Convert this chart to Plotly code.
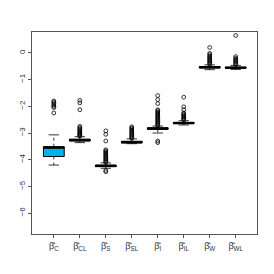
import plotly.graph_objects as go

labels = ["β̂<sub>C</sub>", "β̂<sub>CL</sub>", "β̂<sub>S</sub>", "β̂<sub>SL</sub>",
          "β̂<sub>I</sub>", "β̂<sub>IL</sub>", "β̂<sub>W</sub>", "β̂<sub>WL</sub>"]
positions = [1, 2, 3, 4, 5, 6, 7, 8]
q1 = [-3.88, -3.30, -4.26, -3.37, -2.86, -2.65, -0.57, -0.58]
median = [-3.55, -3.27, -4.23, -3.35, -2.84, -2.63, -0.54, -0.56]
q3 = [-3.51, -3.23, -4.20, -3.31, -2.80, -2.60, -0.51, -0.53]
lower = [-4.20, -3.36, -4.32, -3.40, -3.00, -2.70, -0.63, -0.62]
upper = [-3.07, -3.14, -4.12, -3.22, -2.74, -2.54, -0.45, -0.47]
fills = ["#00B2EE", "#1F6E8C", "#8B2A1A", "#3A3A3A", "#2E7D4F", "#3A3A3A", "#B8A000", "#2A2A2A"]

outliers = [
    [-1.80, -1.85, -1.90, -1.95, -2.00, -2.05, -2.25],
    [-1.78, -1.87, -2.13, -2.75, -2.80, -2.84, -2.88, -2.92, -2.96, -3.00, -3.03, -3.06, -3.09, -3.12],
    [-2.92, -3.05, -3.30, -3.63, -3.67, -3.71, -3.75, -3.79, -3.83, -3.87, -3.91, -3.95, -3.99,
     -4.03, -4.07, -4.10, -4.40, -4.45],
    [-2.77, -2.81, -2.85, -2.89, -2.93, -2.97, -3.01, -3.05, -3.09, -3.13, -3.17, -3.20],
    [-1.60, -1.75, -1.90, -2.13, -2.17, -2.21, -2.25, -2.29, -2.33, -2.37, -2.41, -2.45, -2.49,
     -2.53, -2.57, -2.61, -2.65, -2.69, -2.72, -3.30, -3.36],
    [-1.66, -2.02, -2.13, -2.25, -2.29, -2.33, -2.37, -2.41, -2.45, -2.49, -2.52],
    [0.20, -0.02, -0.07, -0.12, -0.16, -0.20, -0.24, -0.28, -0.32, -0.36, -0.40, -0.43],
    [0.65, -0.14, -0.20, -0.24, -0.28, -0.32, -0.36, -0.40, -0.44],
]

fig = go.Figure()
for i, p in enumerate(positions):
    fig.add_trace(go.Box(
        x=[p], q1=[q1[i]], median=[median[i]], q3=[q3[i]],
        lowerfence=[q1[i]], upperfence=[q3[i]],
        width=0.8, fillcolor=fills[i], line=dict(color="black", width=1),
        whiskerwidth=0, boxpoints=False, showlegend=False, hoverinfo="skip"))
    fig.add_trace(go.Scatter(
        x=[p, p, None, p, p], y=[q3[i], upper[i], None, q1[i], lower[i]],
        mode="lines", line=dict(color="black", width=0.8, dash="dot"),
        showlegend=False, hoverinfo="skip"))
    fig.add_trace(go.Scatter(
        x=[p - 0.2, p + 0.2, None, p - 0.2, p + 0.2],
        y=[upper[i], upper[i], None, lower[i], lower[i]],
        mode="lines", line=dict(color="black", width=0.8),
        showlegend=False, hoverinfo="skip"))
    fig.add_trace(go.Scatter(
        x=[p - 0.4, p + 0.4], y=[median[i], median[i]],
        mode="lines", line=dict(color="black", width=2.2),
        showlegend=False, hoverinfo="skip"))
    fig.add_trace(go.Scatter(
        x=[p] * len(outliers[i]), y=outliers[i], mode="markers",
        marker=dict(symbol="circle-open", size=3.8, color="black", line=dict(width=0.8)),
        showlegend=False, hoverinfo="skip"))

fig.update_layout(
    width=274, height=274,
    margin=dict(l=32, r=17, t=32, b=40),
    paper_bgcolor="white", plot_bgcolor="white",
    font=dict(family="Liberation Sans, Arial, sans-serif", size=8, color="#333"),
)
fig.update_xaxes(
    range=[0.16, 8.82], tickvals=positions, ticktext=labels,
    showline=True, mirror=True, linecolor="#555", linewidth=1,
    ticks="outside", ticklen=3, tickcolor="#555", showgrid=False, zeroline=False,
    tickfont=dict(size=9))
fig.update_yaxes(
    range=[-6.78, 0.78], tickvals=[0, -1, -2, -3, -4, -5, -6],
    showline=True, mirror=True, linecolor="#555", linewidth=1,
    ticks="outside", ticklen=3, tickcolor="#555", showgrid=False, zeroline=False,
    tickangle=-90, tickfont=dict(size=8))

fig.write_html("out.html", config={"displayModeBar": False},
               post_script="document.body.style.margin='0';")
